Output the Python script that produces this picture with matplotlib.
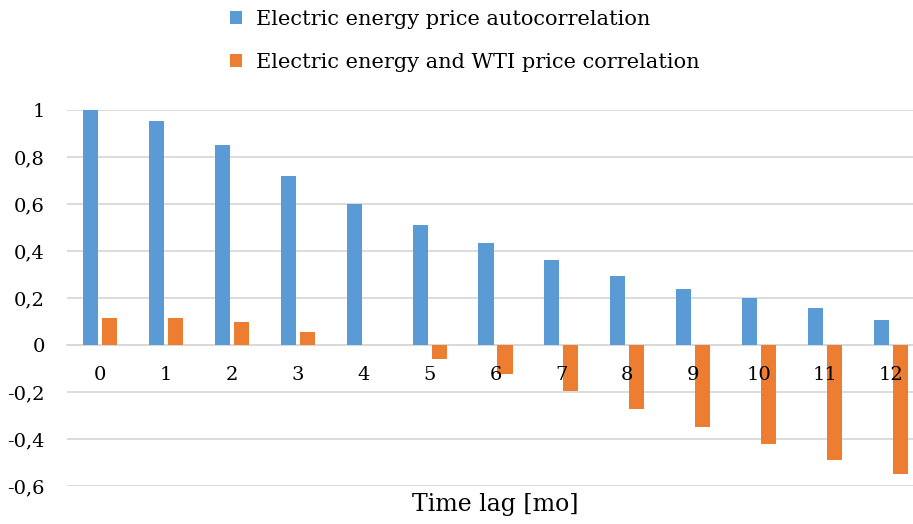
import matplotlib
matplotlib.use("Agg")
import matplotlib.pyplot as plt
import numpy as np
from matplotlib.ticker import FuncFormatter, MultipleLocator

# valores
lags = list(range(13))
autocorr = [1.0, 0.954, 0.849, 0.720, 0.601, 0.511, 0.434, 0.362, 0.295, 0.240, 0.200, 0.159, 0.106]
wti_corr = [0.116, 0.116, 0.096, 0.057, 0.0, -0.060, -0.125, -0.197, -0.271, -0.348, -0.423, -0.489, -0.551]

blue = "#5B9BD5"
orange = "#ED7D31"
grid = "#D9D9D9"

plt.rcParams["font.family"] = ["DejaVu Serif"]

fig = plt.figure(figsize=(9.13, 5.24), dpi=100)
ax = fig.add_axes([67 / 913, 1 - 486 / 524, (924 - 67) / 913, (486 - 110) / 524])

x = np.array(lags)
w = 0.228
off = 0.144
b1 = ax.bar(x - off, autocorr, w, color=blue, zorder=1, label="Electric energy price autocorrelation")
b2 = ax.bar(x + off, wti_corr, w, color=orange, zorder=1, label="Electric energy and WTI price correlation")

ax.set_xlim(-0.5, 12.5)
ax.set_ylim(-0.6, 1.0)
ax.yaxis.set_major_locator(MultipleLocator(0.2))
ax.yaxis.set_major_formatter(FuncFormatter(lambda v, p: ("%g" % round(v, 2)).replace(".", ",")))

# lineas de la cuadricula detras de las barras
for yv in np.arange(-0.6, 1.01, 0.2):
    ax.axhline(yv, color=grid, linewidth=1.3, zorder=0.5)

for s in ["top", "right", "left"]:
    ax.spines[s].set_visible(False)
ax.spines["bottom"].set_position(("data", 0))
ax.spines["bottom"].set_color(grid)
ax.spines["bottom"].set_linewidth(1.3)
ax.spines["bottom"].set_zorder(0.6)

ax.set_xticks(x)
ax.set_xticklabels([str(l) for l in lags])
ax.tick_params(axis="x", length=0, pad=15, labelsize=14)
ax.tick_params(axis="y", length=0, pad=16, labelsize=14)
ax.set_axisbelow(False)

fig.text(495 / 913, 1 - 505 / 524, "Time lag [mo]", ha="center", va="center", fontsize=17)

fig.legend(handles=[b1, b2], loc="upper left", bbox_to_anchor=(211 / 913, 1.017),
           frameon=False, fontsize=15, handlelength=0.6, handleheight=0.6,
           handletextpad=0.65, labelspacing=1.15)

fig.savefig("out.png", dpi=100)
